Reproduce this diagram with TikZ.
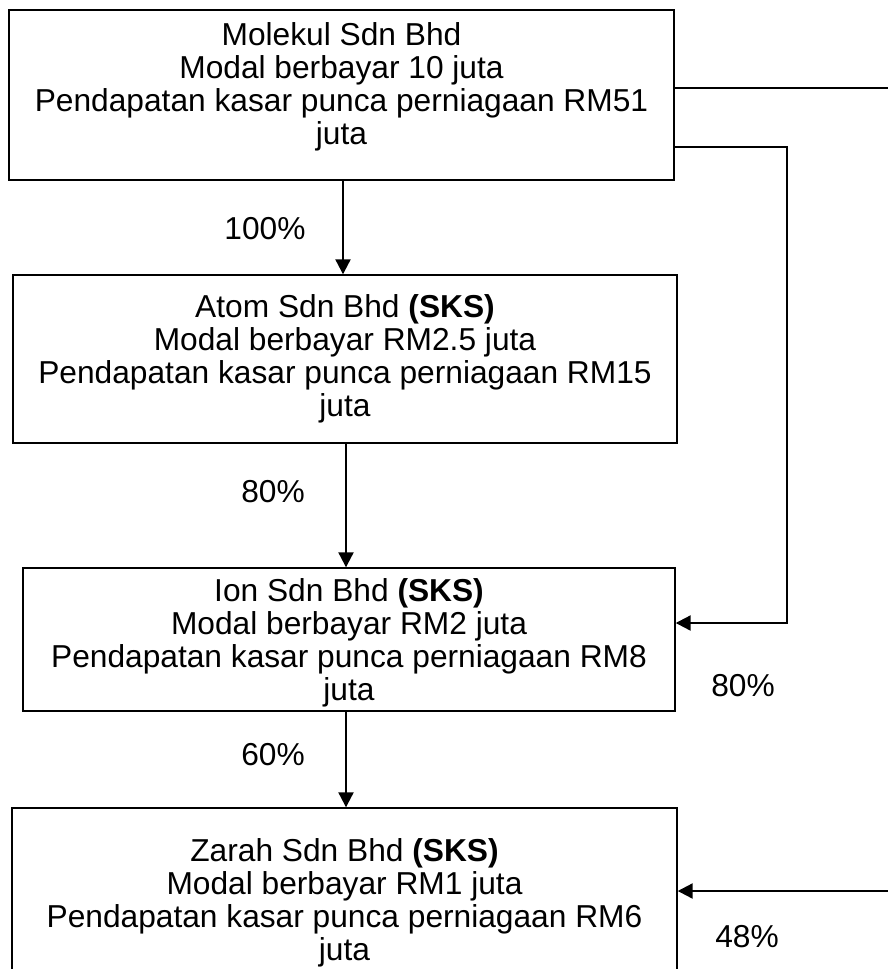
\documentclass[tikz,border=0pt]{standalone}
\usepackage{fontspec}
\setmainfont{Liberation Sans}
\usetikzlibrary{arrows.meta,fit}
\begin{document}
\begin{tikzpicture}[x=1pt,y=-1pt,
  box/.style={draw=black, line width=1.4pt, inner sep=0pt},
  txt/.style={align=center, inner sep=0pt, font=\fontsize{31.7}{33}\selectfont},
  lbl/.style={font=\fontsize{31.7}{33}\selectfont, inner sep=0pt},
  arr/.style={line width=2.2pt, -{Triangle[length=15pt,width=15pt]}},
  ln/.style={line width=2.2pt}]
\useasboundingbox (0,0) rectangle (888,969);
\clip (0,0) rectangle (888,969);
\node[box, fit={(9,10) (674,180)}] (b1) {};
\node[box, fit={(13,275) (677,443)}] (b2) {};
\node[box, fit={(23,568) (675,711)}] (b3) {};
\node[box, fit={(12,808) (677,990)}] (b4) {};
\node[txt] (t1) at (341.5,87)
  {Molekul Sdn Bhd\\Modal berbayar 10 juta\\Pendapatan kasar punca perniagaan RM51\\juta};
\node[txt] (t2) at (345,359)
  {Atom Sdn Bhd \textbf{(SKS)}\\Modal berbayar RM2.5 juta\\Pendapatan kasar punca perniagaan RM15\\juta};
\node[txt] (t3) at (349,643)
  {Ion Sdn Bhd \textbf{(SKS)}\\Modal berbayar RM2 juta\\Pendapatan kasar punca perniagaan RM8\\juta};
\node[txt] (t4) at (344.5,903)
  {Zarah Sdn Bhd \textbf{(SKS)}\\Modal berbayar RM1 juta\\Pendapatan kasar punca perniagaan RM6\\juta};
\node[lbl] (l1) at (265,229) {100\%};
\node[lbl] (l2) at (273,492) {80\%};
\node[lbl] (l3) at (273,755) {60\%};
\node[lbl] (l4) at (743,686) {80\%};
\node[lbl] (l5) at (747,937) {48\%};
\coordinate (a1) at (343,0);
\coordinate (a2) at (346,0);
\draw[arr] (a1 |- b1.south) -- (a1 |- b2.north);
\draw[arr] (a2 |- b2.south) -- (a2 |- b3.north);
\draw[arr] (a2 |- b3.south) -- (a2 |- b4.north);
\coordinate (e1) at (888,88);
\draw[ln] (e1 -| b1.east) -- (e1);
\coordinate (k1) at (787,147);
\coordinate (k2) at (787,623);
\draw[arr] (k1 -| b1.east) -- (k1) -- (k2) -- (k2 -| b3.east);
\coordinate (e2) at (888,891);
\draw[arr] (e2) -- (e2 -| b4.east);
\end{tikzpicture}
\end{document}
